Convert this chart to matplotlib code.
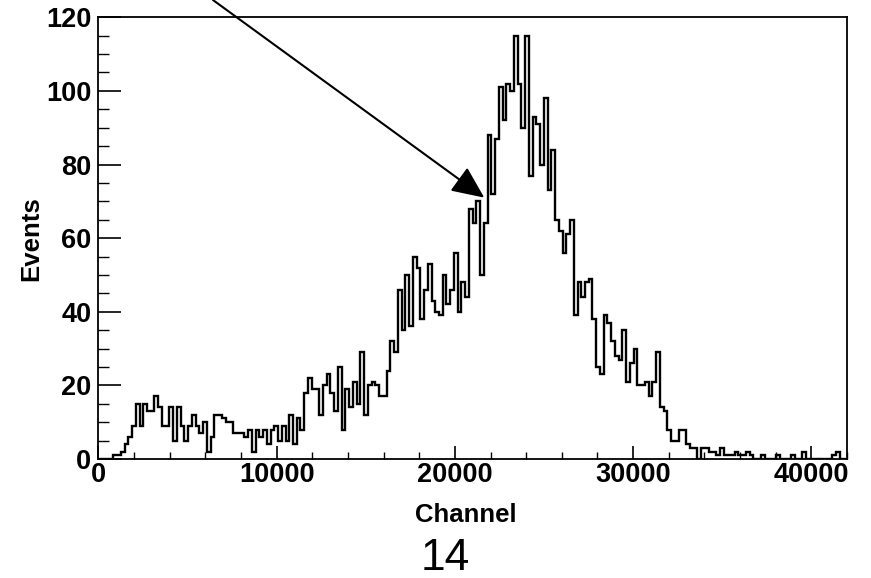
import numpy as np
import matplotlib
matplotlib.use("Agg")
import matplotlib.pyplot as plt
from matplotlib.ticker import MultipleLocator

# histogramme : 200 canaux de 0 a 42000 (largeur 210)
x_min, x_max = 0, 42000
n_bins = 200
events = [
    0, 0, 0, 0, 1, 1, 2, 4, 6, 9,
    15, 9, 15, 13, 13, 17, 14, 9, 9, 14,
    5, 14, 9, 5, 9, 12, 9, 7, 10, 2,
    6, 12, 12, 11, 10, 10, 7, 7, 7, 6,
    8, 2, 8, 6, 8, 4, 8, 9, 5, 9,
    5, 12, 4, 11, 8, 18, 22, 19, 19, 12,
    20, 23, 18, 13, 25, 8, 19, 14, 21, 15,
    29, 12, 20, 21, 20, 17, 17, 24, 32, 29,
    46, 35, 50, 36, 55, 52, 38, 46, 53, 43,
    40, 39, 50, 42, 46, 56, 40, 48, 44, 68,
    64, 70, 50, 64, 88, 72, 87, 101, 92, 102,
    100, 115, 102, 90, 115, 77, 93, 91, 80, 98,
    73, 84, 65, 62, 56, 61, 65, 39, 48, 44,
    48, 49, 38, 25, 23, 39, 37, 32, 28, 27,
    35, 21, 26, 30, 20, 20, 21, 17, 21, 29,
    14, 13, 8, 5, 5, 8, 8, 4, 3, 3,
    0, 3, 3, 2, 2, 1, 3, 1, 1, 1,
    2, 1, 1, 2, 1, 0, 0, 1, 0, 0,
    0, 1, 0, 0, 0, 1, 0, 0, 2, 0,
    0, 0, 0, 0, 0, 0, 1, 2, 0, 0,
]
edges = np.linspace(x_min, x_max, n_bins + 1)

# pointe de la fleche (donnees) et depart (fraction de figure)
arrow_tip = (21650, 71)
arrow_start = (0.2445, 1.0)

fig = plt.figure(figsize=(8.71, 5.78), dpi=100)
ax = fig.add_axes([0.1129, 0.2059, 0.8596, 0.7642])

ax.stairs(events, edges, color="black", linewidth=1.7)

ax.set_xlim(x_min, x_max)
ax.set_ylim(0, 120)

ax.xaxis.set_major_locator(MultipleLocator(10000))
ax.xaxis.set_minor_locator(MultipleLocator(2000))
ax.yaxis.set_major_locator(MultipleLocator(20))
ax.yaxis.set_minor_locator(MultipleLocator(5))

ax.tick_params(axis="x", which="major", direction="in", length=9.5, width=1.2,
               pad=2, top=False)
ax.tick_params(axis="x", which="minor", direction="in", length=4.7, width=1.0, top=False)
ax.tick_params(axis="y", which="major", direction="in", length=16.5, width=1.2,
               pad=5, right=False)
ax.tick_params(axis="y", which="minor", direction="in", length=8, width=1.0, right=False)

for lab in ax.get_xticklabels() + ax.get_yticklabels():
    lab.set_fontfamily("Liberation Sans")
    lab.set_fontweight("bold")
    lab.set_fontsize(19.5)

for s in ax.spines.values():
    s.set_linewidth(1.3)

ax.set_xlabel("Channel", fontsize=18.5, fontweight="bold", family="Liberation Sans")
ax.xaxis.set_label_coords(0.491, -0.1)
ax.set_ylabel("Events", fontsize=18.5, fontweight="bold", family="Liberation Sans")
ax.yaxis.set_label_coords(-0.074, 0.5)

ax.annotate("", xy=arrow_tip, xycoords="data",
            xytext=arrow_start, textcoords="figure fraction",
            arrowprops=dict(arrowstyle="-|>,head_length=1.0,head_width=0.45",
                            mutation_scale=20, color="black", linewidth=1.5,
                            shrinkA=0, shrinkB=0),
            annotation_clip=False)

fig.text(0.511, 0.014, "14", fontsize=32, family="Liberation Sans",
         ha="center", va="baseline")

fig.savefig("out.png", dpi=100)
